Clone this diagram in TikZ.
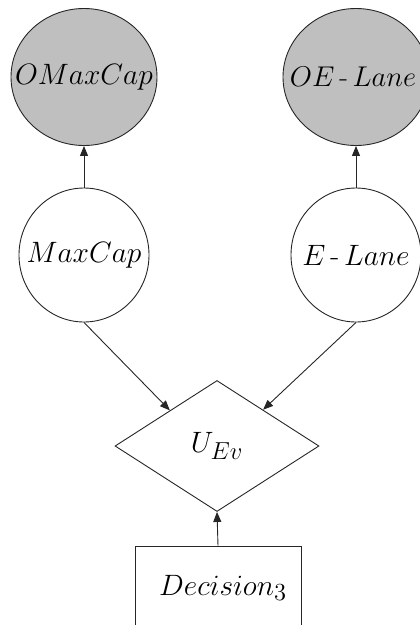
\documentclass[tikz,border=0pt]{standalone}
\usetikzlibrary{shapes.geometric,arrows.meta,calc}
\newcommand{\mylbl}[1]{\scalebox{1.42}{$#1$}}
\newcommand{\mysub}[1]{\scalebox{1.2}{$\scriptstyle #1$}}
\begin{document}
\begin{tikzpicture}[x=1pt,y=-1pt,
  every node/.style={font=\fontsize{20.74}{25}\selectfont},
  obsnode/.style={ellipse,draw=black!85,line width=0.9pt,fill=gray!50,minimum width=146pt,minimum height=137pt,inner sep=0pt},
  chancenode/.style={ellipse,draw=black!85,line width=0.9pt,fill=white,minimum width=130pt,minimum height=134pt,inner sep=0pt},
  utilnode/.style={diamond,draw=black!85,line width=0.9pt,aspect=1.56,minimum width=204pt,minimum height=131pt,inner sep=0pt},
  decnode/.style={rectangle,draw=black!85,line width=0.9pt,minimum width=166pt,minimum height=84pt,inner sep=0pt},
  arr/.style={-{Triangle[length=10pt,width=8pt]},line width=0.9pt,draw=black!85}]
\clip (0,0) rectangle (420,625);
\node[obsnode,label=center:{\mylbl{OMaxCap}}] (omc) at (84,77) {};
\node[obsnode,label={[xshift=-3pt,scale=0.97]center:{\mylbl{OE\,\mbox{-}\,Lane}}}] (oel) at (356,77) {};
\node[chancenode,label=center:{\mylbl{MaxCap}}] (mc) at (84,255) {};
\node[chancenode,label=center:{\mylbl{E\,\mbox{-}\,Lane}}] (el) at (356,255) {};
\node[utilnode,label=center:{\mylbl{U_{\mysub{Ev}}}}] (u) at (217,446) {};
\node[decnode,label={[xshift=5pt]center:{\mylbl{Decision_{\mysub{3}}}}}] (d) at (218,588) {};
\draw[arr] (mc.north) -- (omc.south);
\draw[arr] (el.north) -- (oel.south);
\draw[arr] (mc.south) -- ($(u.north)!0.46!(u.west)$);
\draw[arr] (el.south) -- ($(u.north)!0.45!(u.east)$);
\draw[arr] (d.north) -- (u.south);
\end{tikzpicture}
\end{document}
